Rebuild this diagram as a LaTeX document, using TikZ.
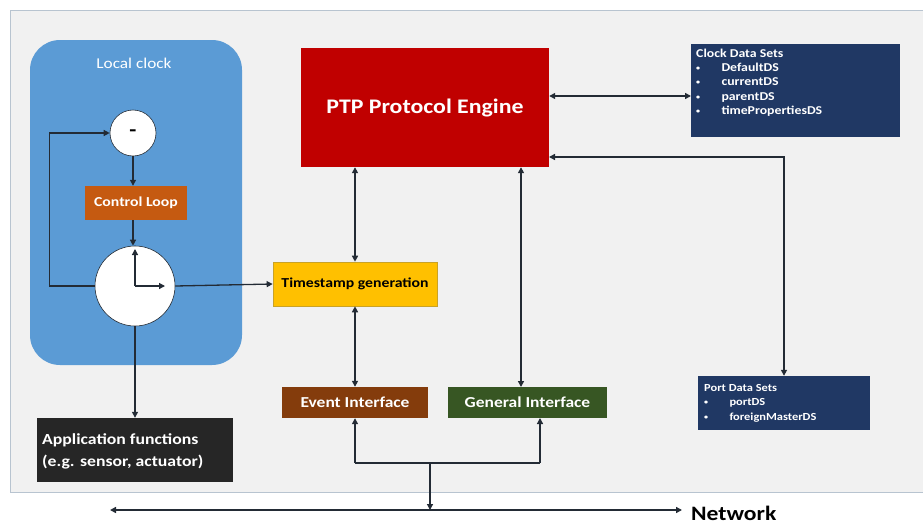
\documentclass[tikz,border=0pt]{standalone}
\usepackage{fontspec}
\usepackage{graphicx}
\setmainfont{Carlito}
\usetikzlibrary{arrows.meta}
\definecolor{panel}{HTML}{F1F1F1}
\definecolor{panelb}{HTML}{B8C4D0}
\definecolor{lclock}{HTML}{5B9BD5}
\definecolor{ptpred}{HTML}{C00000}
\definecolor{tsyel}{HTML}{FFC000}
\definecolor{tsb}{HTML}{C9A227}
\definecolor{ctrl}{HTML}{C55A11}
\definecolor{evbr}{HTML}{843C0C}
\definecolor{gigr}{HTML}{375623}
\definecolor{navy}{HTML}{203864}
\definecolor{appbk}{HTML}{262626}
\definecolor{linec}{HTML}{232B35}
\newcommand{\hs}[1]{\scalebox{1.15}[1]{#1}}
\newcommand{\bul}[1]{\makebox[22pt][l]{\raisebox{1pt}{\scriptsize\textbullet}}#1}
\begin{document}
\begin{tikzpicture}[x=1pt,y=-1pt,
  tip/.tip={Triangle[length=6pt,width=6pt]},
  conn/.style={draw=linec, line width=1.3pt, -tip},
  both/.style={draw=linec, line width=1.6pt, tip-tip},
  plain/.style={draw=linec, line width=1.3pt},
  blk/.style={rectangle, inner sep=0pt, font=\bfseries, text=white},
  circ/.style={circle, fill=white, draw=linec, line width=0.6pt, inner sep=0pt}]
\useasboundingbox (0,0) rectangle (923,525);
\fill[white] (0,0) rectangle (923,525);
\draw[fill=panel, draw=panelb, line width=0.8pt] (10,10) rectangle (925,492);

% Local clock
\node[rectangle, rounded corners=30pt, fill=lclock, minimum width=212pt, minimum height=325pt, inner sep=0pt] (lc) at (136,202.5) {};
\node[text=white, font=\fontsize{15}{16}\selectfont] (lct) at (134,63) {\hs{Local clock}};
\node[circ, minimum size=46pt, font=\bfseries\fontsize{20}{20}\selectfont] (minus) at (133,133) {\hs{-}};
\node[blk, fill=ctrl, minimum width=102pt, minimum height=34pt, font=\bfseries\fontsize{13.7}{15}\selectfont] (ctl) at (136,203) {\hs{Control Loop}};
\node[circ, minimum size=80pt] (clk) at (135,286) {};

% Main blocks
\node[blk, fill=ptpred, minimum width=248pt, minimum height=119pt, font=\bfseries\fontsize{20.7}{22}\selectfont] (ptp) at (425,107.5) {\hs{PTP Protocol Engine}};
\node[rectangle, inner sep=0pt, fill=tsyel, draw=tsb, line width=0.6pt, minimum width=164pt, minimum height=44pt, font=\bfseries\fontsize{13.7}{15}\selectfont, text=black] (ts) at (355,284) {\hs{Timestamp generation}};
\node[blk, fill=evbr, minimum width=146pt, minimum height=31pt, font=\bfseries\fontsize{15.2}{16}\selectfont] (ev) at (355,402.5) {\hs{Event Interface}};
\node[blk, fill=gigr, minimum width=159pt, minimum height=31pt, font=\bfseries\fontsize{15.2}{16}\selectfont] (gi) at (527.5,402.5) {\hs{General Interface}};
\node[blk, fill=appbk, minimum width=196pt, minimum height=64pt] (app) at (135,450) {};
\node[blk, anchor=west, font=\bfseries\fontsize{15.4}{22}\selectfont] (appt) at (42,451) {\hs{\begin{tabular}{@{}l@{}}Application functions\\(e.g. sensor, actuator)\end{tabular}}};

% Data sets
\node[blk, fill=navy, minimum width=209pt, minimum height=93pt] (cds) at (795.5,90.5) {};
\node[blk, anchor=north west, font=\bfseries\fontsize{12}{14.3}\selectfont] (cdst) at (696,47)
  {\hs{\begin{tabular}{@{}l@{}}Clock Data Sets\\\bul{DefaultDS}\\\bul{currentDS}\\\bul{parentDS}\\\bul{timePropertiesDS}\end{tabular}}};
\node[blk, fill=navy, minimum width=172pt, minimum height=54pt] (pds) at (784,403) {};
\node[blk, anchor=north west, font=\bfseries\fontsize{10.8}{14.5}\selectfont] (pdst) at (704,381)
  {\hs{\begin{tabular}{@{}l@{}}Port Data Sets\\\bul{portDS}\\\bul{foreignMasterDS}\end{tabular}}};

% Network
\coordinate (nl) at (110,510);
\coordinate (nr) at (682,510);
\node[font=\bfseries\fontsize{20.5}{22}\selectfont, anchor=west, text=black, inner sep=0pt] (net) at (691,513) {\hs{Network}};

% Local clock connectors
\draw[conn] (minus.south) -- (ctl.north -| minus.south);
\draw[conn] (ctl.south -| minus.south) -- (clk.north -| minus.south);
\draw[conn] (clk.west) -- ++(-45,0) |- (minus.west);
\draw[conn] (clk.center) -- ++(0,-37);
\draw[conn] (clk.center) -- ++(30,0);
\draw[conn] (clk.east) -- (ts.west);
\draw[conn] (clk.south) -- (app.north -| clk.south);

% Protocol engine connectors
\draw[both] (ptp.south -| ts.north) -- (ts.north);
\draw[both] (ts.south) -- (ev.north);
\coordinate (g1) at (521,387);
\draw[both] (g1 |- ptp.south) -- (g1);
\coordinate (c1) at (691,96);
\draw[both] (c1 -| ptp.east) -- (c1);
\coordinate (p1) at (549,157);
\draw[both] (p1) -| (pds.north);

% Network connectors
\coordinate (j) at (430,463);
\coordinate (g2) at (540,418);
\draw[conn] (ev.south |- j) -- (ev.south);
\draw[conn] (g2 |- j) -- (g2);
\draw[plain] (ev.south |- j) -- (g2 |- j);
\draw[conn] (j) -- (j |- nl);
\draw[draw=linec, line width=2.2pt, tip-tip] (nl) -- (nr);
\end{tikzpicture}
\end{document}
